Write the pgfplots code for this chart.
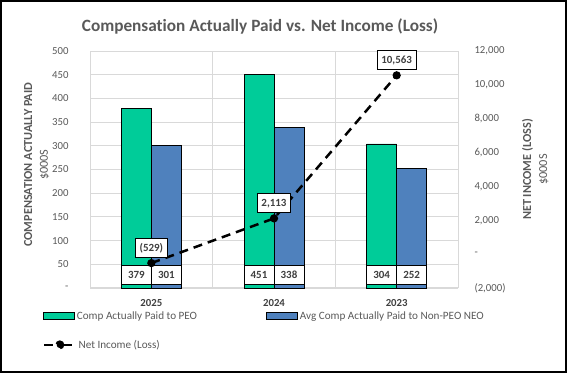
\documentclass[border=0pt]{standalone}
\usepackage{pgfplots}
\pgfplotsset{compat=1.18}
\usepackage{pgfplotstable}
\usepackage{fontspec}
\setmainfont{Carlito}[Ligatures=NoCommon]
\definecolor{cgreen}{RGB}{0,204,153}
\definecolor{cblue}{RGB}{79,129,189}
\definecolor{cgray}{RGB}{89,89,89}
\definecolor{cdark}{RGB}{64,64,64}
\definecolor{cgrid}{RGB}{217,217,217}

\pgfplotstableread{
x year peo neo
0 2025 379 301
1 2024 451 338
2 2023 304 252
}\comp
\pgfplotstableread{
x ni label
0 -529 (529)
1 2113 2,113
2 10563 10,563
}\netinc

\tikzset{valbox/.style={draw=black, fill=white, line width=0.9bp, inner sep=1.5bp,
  minimum height=19bp, font=\fontsize{11}{13}\selectfont\bfseries, text=cdark}}

\begin{document}
\begin{tikzpicture}[x=1bp,y=1bp]
\useasboundingbox (0,0) rectangle (567,373);
\draw[line width=2bp] (1,1) rectangle (566,372);
\node[font=\fontsize{17.3}{21}\selectfont\bfseries, text=cgray] at (260,347) {Compensation Actually Paid vs. Net Income (Loss)};

\begin{axis}[
  at={(90bp,85bp)}, anchor=south west,
  scale only axis, width=368bp, height=237bp,
  xmin=-0.5, xmax=2.5, ymin=0, ymax=500,
  xtick={0,1,2}, xticklabels={2025,2024,2023},
  minor xtick={-0.5,0.5,1.5,2.5}, xminorgrids,
  ytick={0,50,...,500},
  yticklabels={-,50,100,150,200,250,300,350,400,450,500},
  ymajorgrids,
  grid style={cgrid, line width=1bp},
  minor grid style={cgrid, line width=1bp},
  major tick length=0, minor tick length=0,
  axis line style={draw=none},
  axis x line*=bottom, axis y line*=left,
  x axis line style={draw=cgrid, line width=1.2bp},
  y axis line style={draw=none},
  yticklabel style={font=\fontsize{10.8}{12}\selectfont, text=cgray, xshift=-18bp},
  xticklabel style={font=\fontsize{10.8}{12}\selectfont\bfseries, text=cdark, yshift=-8bp},
  every axis y label/.style={at={(axis description cs:-0.145,0.52)}, rotate=90, anchor=center, align=center,
     font=\fontsize{12.3}{16}\selectfont, text=cgray},
  ylabel={\textbf{COMPENSATION ACTUALLY PAID}\\\$000S},
  legend columns=2,
  legend style={at={(axis description cs:-0.128,-0.118)}, anchor=west, draw=none, fill=none,
     inner sep=0pt, font=\fontsize{11.2}{13}\selectfont, text=cgray,
     /tikz/every even column/.append style={column sep=67bp}},
  legend cell align=left,
]
\addplot[ybar, bar width=30bp, bar shift=-15bp, fill=cgreen, draw=black, line width=0.8bp,
  legend image code/.code={\draw[fill=cgreen,draw=black,line width=0.8bp] (0bp,-3.5bp) rectangle (31bp,3.5bp);}]
  table[x=x,y=peo]{\comp};
\addlegendentry{Comp Actually Paid to PEO}
\addplot[ybar, bar width=30bp, bar shift=15bp, fill=cblue, draw=black, line width=0.8bp,
  legend image code/.code={\draw[fill=cblue,draw=black,line width=0.8bp] (0bp,-3.5bp) rectangle (31bp,3.5bp);}]
  table[x=x,y=neo]{\comp};
\addlegendentry{Avg Comp Actually Paid to Non-PEO NEO}
\addplot[draw=none, mark=none, forget plot, nodes near coords, point meta=explicit symbolic,
  nodes near coords style={valbox, anchor=south, yshift=3bp, xshift=-15bp, minimum width=30bp}]
  table[x=x, y expr=0, meta=peo]{\comp};
\addplot[draw=none, mark=none, forget plot, nodes near coords, point meta=explicit symbolic,
  nodes near coords style={valbox, anchor=south, yshift=3bp, xshift=15bp, minimum width=30bp}]
  table[x=x, y expr=0, meta=neo]{\comp};
\end{axis}

\begin{axis}[
  at={(90bp,85bp)}, anchor=south west,
  scale only axis, width=368bp, height=237bp,
  xmin=-0.5, xmax=2.5, ymin=-2000, ymax=12000,
  axis x line=none, axis y line*=right,
  y axis line style={draw=none},
  major tick length=0,
  scaled y ticks=false,
  ytick={-2000,0,2000,4000,6000,8000,10000,12000},
  yticklabels={{(2,000)},{-},{2,000},{4,000},{6,000},{8,000},{10,000},{12,000}},
  yticklabel style={font=\fontsize{10.8}{12}\selectfont, text=cgray, xshift=13bp},
  every axis y label/.style={at={(axis description cs:1.21,0.5)}, rotate=90, anchor=center, align=center,
     font=\fontsize{12.3}{16}\selectfont, text=cgray},
  ylabel={\textbf{NET INCOME (LOSS)}\\\$000S},
  legend style={at={(axis description cs:-0.128,-0.24)}, anchor=west, draw=none, fill=none,
     inner sep=0pt, font=\fontsize{11.2}{13}\selectfont, text=cgray},
  clip=false,
]
\addplot[black, line width=2.5bp, dash pattern=on 9bp off 6bp, mark=*, mark size=2.8bp,
  mark options={solid},
  nodes near coords, point meta=explicit symbolic,
  nodes near coords style={valbox, anchor=south, yshift=5bp, inner xsep=4bp},
  legend image code/.code={\draw[black,line width=2.5bp] (0bp,0bp) -- (12bp,0bp); \draw[black,line width=2.5bp] (19bp,0bp) -- (31bp,0bp); \fill[black] (15.5bp,0bp) circle (3.2bp);}]
  table[x=x,y=ni,meta=label]{\netinc};
\addlegendentry{Net Income (Loss)}
\end{axis}
\end{tikzpicture}
\end{document}
